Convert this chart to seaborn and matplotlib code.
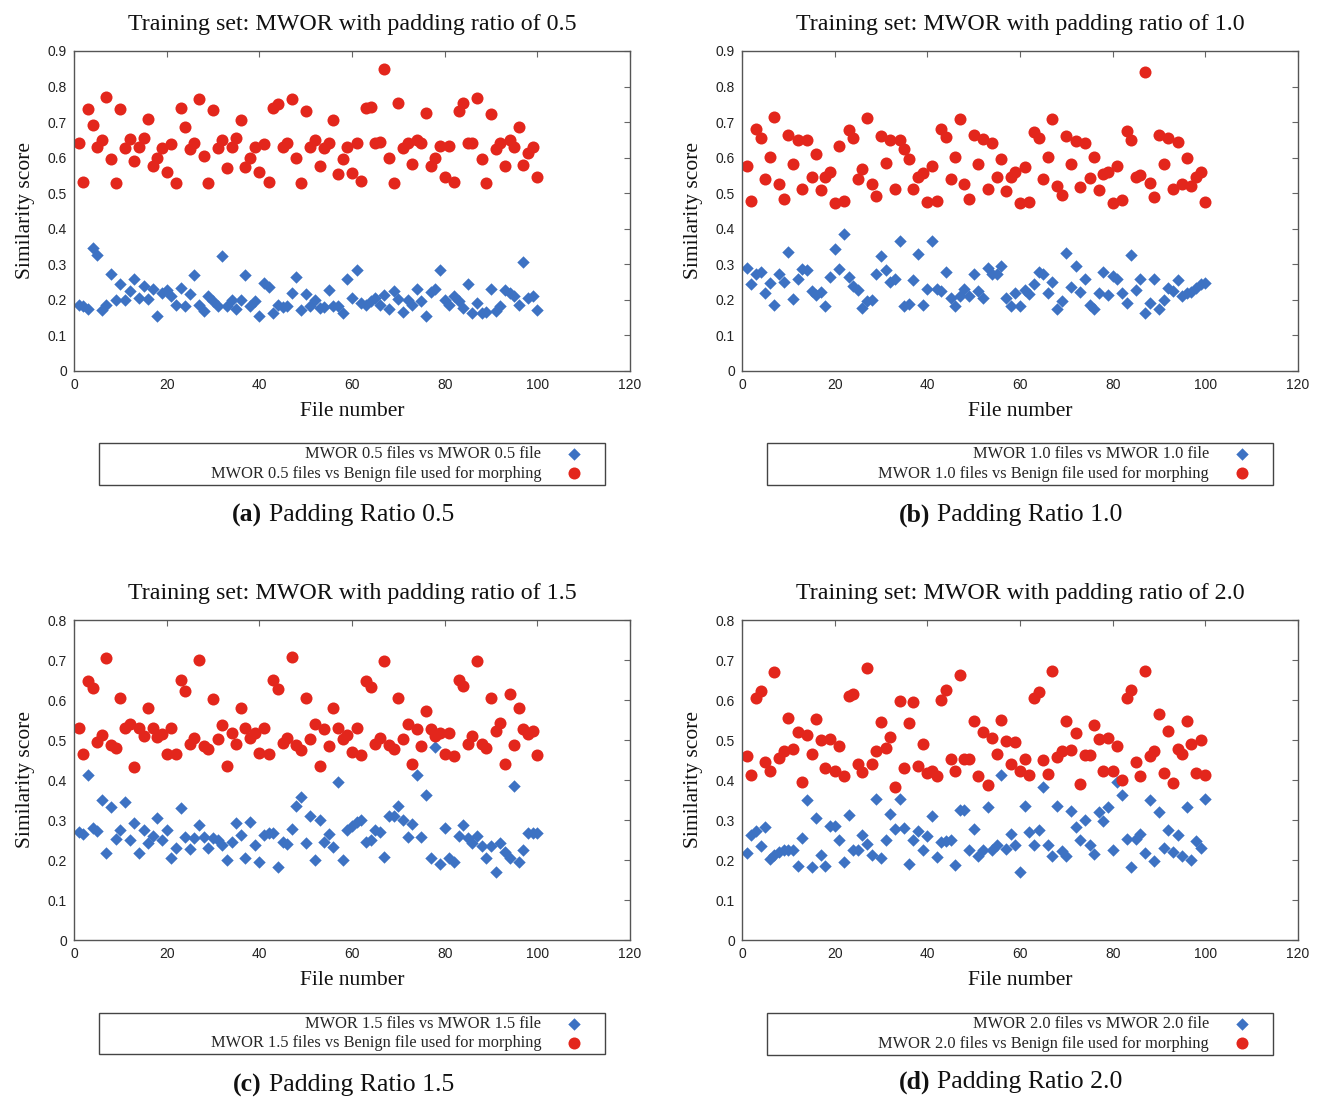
import numpy as np
import matplotlib
matplotlib.use("Agg")
import matplotlib.pyplot as plt
import seaborn as sns
from matplotlib.patches import Rectangle

# file index on the x axis
file_number = list(range(1, 101))

# (a) padding ratio 0.5
mwor05_vs_mwor = [
    0.187, 0.183, 0.175, 0.345, 0.326, 0.171, 0.187, 0.274, 0.201, 0.244,
    0.200, 0.225, 0.260, 0.206, 0.239, 0.203, 0.230, 0.155, 0.220, 0.228,
    0.211, 0.187, 0.234, 0.183, 0.216, 0.269, 0.187, 0.169, 0.211, 0.197,
    0.183, 0.323, 0.183, 0.201, 0.175, 0.199, 0.271, 0.183, 0.197, 0.156,
    0.248, 0.237, 0.164, 0.187, 0.180, 0.183, 0.220, 0.264, 0.172, 0.216,
    0.183, 0.201, 0.178, 0.180, 0.228, 0.183, 0.183, 0.164, 0.258, 0.206,
    0.283, 0.192, 0.187, 0.197, 0.206, 0.186, 0.213, 0.175, 0.225, 0.203,
    0.166, 0.200, 0.187, 0.230, 0.197, 0.156, 0.223, 0.230, 0.283, 0.200,
    0.187, 0.211, 0.197, 0.178, 0.246, 0.164, 0.192, 0.164, 0.166, 0.231,
    0.169, 0.183, 0.228, 0.220, 0.211, 0.185, 0.306, 0.206, 0.211, 0.172]
mwor05_vs_benign = [
    0.640, 0.532, 0.736, 0.692, 0.630, 0.651, 0.771, 0.595, 0.530, 0.736,
    0.628, 0.653, 0.592, 0.631, 0.655, 0.709, 0.576, 0.598, 0.626, 0.560,
    0.639, 0.530, 0.739, 0.687, 0.623, 0.642, 0.764, 0.605, 0.530, 0.733,
    0.628, 0.651, 0.572, 0.631, 0.656, 0.705, 0.574, 0.598, 0.631, 0.560,
    0.639, 0.532, 0.740, 0.752, 0.630, 0.642, 0.766, 0.600, 0.530, 0.731,
    0.631, 0.651, 0.576, 0.628, 0.640, 0.706, 0.553, 0.595, 0.630, 0.558,
    0.642, 0.534, 0.739, 0.743, 0.642, 0.644, 0.850, 0.598, 0.528, 0.754,
    0.626, 0.640, 0.581, 0.651, 0.642, 0.726, 0.576, 0.600, 0.633, 0.546,
    0.634, 0.532, 0.731, 0.754, 0.642, 0.642, 0.768, 0.595, 0.528, 0.724,
    0.623, 0.642, 0.576, 0.651, 0.631, 0.687, 0.578, 0.614, 0.631, 0.545]

# (b) padding ratio 1.0
mwor10_vs_mwor = [
    0.289, 0.246, 0.274, 0.278, 0.220, 0.248, 0.185, 0.272, 0.251, 0.335,
    0.203, 0.260, 0.286, 0.284, 0.225, 0.213, 0.223, 0.183, 0.264, 0.342,
    0.288, 0.384, 0.264, 0.239, 0.228, 0.178, 0.197, 0.201, 0.274, 0.323,
    0.284, 0.250, 0.260, 0.367, 0.183, 0.189, 0.256, 0.330, 0.187, 0.230,
    0.366, 0.231, 0.225, 0.278, 0.206, 0.183, 0.211, 0.230, 0.211, 0.274,
    0.225, 0.206, 0.291, 0.272, 0.272, 0.295, 0.206, 0.183, 0.218, 0.183,
    0.228, 0.216, 0.246, 0.278, 0.272, 0.220, 0.250, 0.175, 0.197, 0.333,
    0.236, 0.295, 0.223, 0.258, 0.187, 0.175, 0.218, 0.278, 0.213, 0.267,
    0.258, 0.218, 0.192, 0.327, 0.227, 0.258, 0.164, 0.192, 0.258, 0.173,
    0.201, 0.234, 0.225, 0.256, 0.211, 0.220, 0.222, 0.234, 0.246, 0.248]
mwor10_vs_benign = [
    0.576, 0.478, 0.681, 0.655, 0.541, 0.603, 0.715, 0.527, 0.485, 0.663,
    0.583, 0.649, 0.513, 0.649, 0.545, 0.609, 0.509, 0.545, 0.560, 0.473,
    0.633, 0.478, 0.679, 0.655, 0.541, 0.567, 0.712, 0.525, 0.492, 0.661,
    0.586, 0.651, 0.511, 0.649, 0.623, 0.597, 0.513, 0.545, 0.558, 0.476,
    0.576, 0.478, 0.681, 0.659, 0.541, 0.603, 0.709, 0.525, 0.485, 0.663,
    0.581, 0.653, 0.511, 0.640, 0.545, 0.597, 0.506, 0.546, 0.560, 0.473,
    0.575, 0.476, 0.672, 0.655, 0.539, 0.603, 0.708, 0.520, 0.495, 0.661,
    0.583, 0.647, 0.517, 0.642, 0.544, 0.602, 0.509, 0.553, 0.560, 0.473,
    0.576, 0.481, 0.675, 0.651, 0.545, 0.550, 0.842, 0.530, 0.489, 0.663,
    0.583, 0.654, 0.511, 0.645, 0.525, 0.598, 0.520, 0.545, 0.560, 0.476]

# (c) padding ratio 1.5
mwor15_vs_mwor = [
    0.270, 0.266, 0.412, 0.280, 0.272, 0.349, 0.217, 0.333, 0.253, 0.276,
    0.345, 0.249, 0.293, 0.217, 0.276, 0.242, 0.261, 0.305, 0.251, 0.274,
    0.205, 0.230, 0.330, 0.258, 0.227, 0.255, 0.288, 0.257, 0.230, 0.255,
    0.251, 0.238, 0.201, 0.244, 0.293, 0.263, 0.205, 0.295, 0.238, 0.194,
    0.263, 0.268, 0.268, 0.182, 0.245, 0.240, 0.278, 0.334, 0.358, 0.242,
    0.311, 0.201, 0.301, 0.244, 0.266, 0.232, 0.395, 0.201, 0.274, 0.285,
    0.294, 0.301, 0.244, 0.251, 0.276, 0.269, 0.207, 0.309, 0.311, 0.336,
    0.299, 0.257, 0.291, 0.412, 0.257, 0.362, 0.205, 0.483, 0.191, 0.280,
    0.205, 0.196, 0.259, 0.288, 0.255, 0.242, 0.261, 0.234, 0.205, 0.236,
    0.169, 0.242, 0.219, 0.205, 0.386, 0.196, 0.226, 0.268, 0.268, 0.268]
mwor15_vs_benign = [
    0.531, 0.464, 0.648, 0.629, 0.495, 0.512, 0.704, 0.487, 0.479, 0.604,
    0.531, 0.541, 0.433, 0.529, 0.510, 0.579, 0.531, 0.508, 0.514, 0.464,
    0.531, 0.464, 0.650, 0.623, 0.489, 0.506, 0.701, 0.485, 0.477, 0.602,
    0.502, 0.538, 0.436, 0.517, 0.489, 0.579, 0.531, 0.506, 0.518, 0.467,
    0.531, 0.464, 0.650, 0.627, 0.493, 0.506, 0.707, 0.487, 0.475, 0.604,
    0.502, 0.539, 0.435, 0.527, 0.485, 0.579, 0.531, 0.503, 0.512, 0.470,
    0.531, 0.462, 0.648, 0.633, 0.491, 0.506, 0.698, 0.487, 0.478, 0.604,
    0.502, 0.541, 0.441, 0.528, 0.485, 0.573, 0.528, 0.510, 0.518, 0.464,
    0.517, 0.460, 0.650, 0.634, 0.489, 0.510, 0.698, 0.489, 0.481, 0.606,
    0.523, 0.543, 0.439, 0.616, 0.487, 0.581, 0.527, 0.515, 0.523, 0.462]

# (d) padding ratio 2.0
mwor20_vs_mwor = [
    0.217, 0.263, 0.273, 0.236, 0.283, 0.202, 0.213, 0.219, 0.226, 0.224,
    0.226, 0.186, 0.255, 0.351, 0.182, 0.305, 0.213, 0.186, 0.286, 0.284,
    0.251, 0.196, 0.312, 0.224, 0.226, 0.263, 0.240, 0.213, 0.353, 0.205,
    0.251, 0.315, 0.278, 0.353, 0.280, 0.191, 0.251, 0.272, 0.226, 0.261,
    0.309, 0.207, 0.244, 0.247, 0.251, 0.188, 0.326, 0.326, 0.226, 0.278,
    0.209, 0.226, 0.333, 0.224, 0.238, 0.412, 0.228, 0.265, 0.237, 0.171,
    0.334, 0.269, 0.238, 0.276, 0.383, 0.238, 0.209, 0.334, 0.222, 0.211,
    0.322, 0.283, 0.251, 0.299, 0.238, 0.215, 0.319, 0.297, 0.333, 0.224,
    0.395, 0.362, 0.252, 0.182, 0.252, 0.266, 0.217, 0.351, 0.197, 0.320,
    0.230, 0.274, 0.219, 0.263, 0.209, 0.333, 0.200, 0.247, 0.230, 0.353]
mwor20_vs_benign = [
    0.460, 0.412, 0.604, 0.623, 0.446, 0.422, 0.671, 0.456, 0.472, 0.554,
    0.478, 0.520, 0.395, 0.512, 0.464, 0.552, 0.500, 0.431, 0.502, 0.422,
    0.485, 0.411, 0.610, 0.616, 0.439, 0.420, 0.679, 0.441, 0.472, 0.545,
    0.481, 0.508, 0.383, 0.598, 0.431, 0.543, 0.594, 0.436, 0.491, 0.418,
    0.422, 0.411, 0.600, 0.625, 0.452, 0.422, 0.662, 0.453, 0.453, 0.548,
    0.410, 0.520, 0.387, 0.506, 0.464, 0.549, 0.497, 0.441, 0.495, 0.422,
    0.453, 0.412, 0.604, 0.621, 0.449, 0.416, 0.672, 0.457, 0.472, 0.548,
    0.475, 0.517, 0.391, 0.462, 0.462, 0.538, 0.502, 0.422, 0.506, 0.422,
    0.485, 0.401, 0.604, 0.625, 0.446, 0.410, 0.672, 0.460, 0.472, 0.564,
    0.418, 0.522, 0.393, 0.478, 0.464, 0.548, 0.489, 0.418, 0.500, 0.412]

ratios = ["0.5", "1.0", "1.5", "2.0"]
letters = ["a", "b", "c", "d"]
same_series = [mwor05_vs_mwor, mwor10_vs_mwor, mwor15_vs_mwor, mwor20_vs_mwor]
benign_series = [mwor05_vs_benign, mwor10_vs_benign, mwor15_vs_benign, mwor20_vs_benign]
y_max = [0.9, 0.9, 0.8, 0.8]

BLUE = "#3D72C3"
RED = "#E3261C"
SERIF = ["Liberation Serif", "DejaVu Serif"]
SANS = ["Liberation Sans", "DejaVu Sans"]

W, H = 1322, 1099

def fx(x):
    return x / W

def fy(y):
    return 1 - y / H

sns.set_theme(style="white")
plt.rcParams["font.family"] = SERIF

fig = plt.figure(figsize=(W / 100, H / 100), dpi=100)

# pixel layout of each panel: axes box, legend box, caption row
col_left = [74, 742, 74, 742]
row_top = [51, 51, 620, 620]
axes_w, axes_h = 556, 320
legend_y = [(443, 485), (443, 485), (1013, 1054), (1013, 1055)]
caption_y = [515, 515, 1085, 1082]

for i in range(4):
    l, t = col_left[i], row_top[i]
    ax = fig.add_axes([fx(l), fy(t + axes_h), axes_w / W, axes_h / H])

    sns.scatterplot(x=file_number, y=same_series[i], marker="D", color=BLUE,
                    s=40, linewidth=0, ax=ax,
                    label=f"MWOR {ratios[i]} files vs MWOR {ratios[i]} file")
    sns.scatterplot(x=file_number, y=benign_series[i], marker="o", color=RED,
                    s=75, linewidth=0, ax=ax,
                    label=f"MWOR {ratios[i]} files vs Benign file used for morphing")

    ax.set_xlim(0, 120)
    ax.set_ylim(0, y_max[i])
    xt = list(range(0, 121, 20))
    yt = np.round(np.arange(0, y_max[i] + 0.001, 0.1), 1)
    ax.set_xticks(xt, labels=[str(v) for v in xt], family=SANS)
    ax.set_yticks(yt, labels=["0" if v == 0 else f"{v:.1f}" for v in yt], family=SANS)
    ax.tick_params(direction="in", length=4, width=0.8, top=True, right=True,
                   labelsize=10, color="#666666", labelcolor="#222222", pad=5)
    for sp in ax.spines.values():
        sp.set_color("#555555")
        sp.set_linewidth(1.0)

    ax.set_title(f"Training set: MWOR with padding ratio of {ratios[i]}",
                 fontsize=17.3, pad=15, color="#111111")
    ax.set_xlabel("File number", fontsize=15.5, labelpad=7, color="#111111")
    ax.set_ylabel("Similarity score", fontsize=15.5, labelpad=9, color="#111111")

    # legend with text first, marker last, framed by a wide box
    lx0, lx1 = l + 25, l + 531
    ly0, ly1 = legend_y[i]
    handles, labels = ax.get_legend_handles_labels()
    ax.legend(handles, labels, loc="center right",
              bbox_to_anchor=(fx(lx1 - 19.5), fy((ly0 + ly1) / 2)),
              bbox_transform=fig.transFigure, frameon=False, markerfirst=False,
              fontsize=11.8, handlelength=1.4, handletextpad=1.3,
              labelspacing=0.2, borderpad=0, borderaxespad=0)
    fig.add_artist(Rectangle((fx(lx0), fy(ly1)), (lx1 - lx0) / W, (ly1 - ly0) / H,
                             transform=fig.transFigure, fill=False,
                             edgecolor="#444444", linewidth=1.0))

    # caption under the legend
    cx = l + 188
    fig.text(fx(cx), fy(caption_y[i]), f"({letters[i]})", ha="right", va="center",
             fontsize=18.5, fontweight="bold", color="#111111")
    fig.text(fx(cx + 7), fy(caption_y[i]), f"Padding Ratio {ratios[i]}", ha="left",
             va="center", fontsize=18.5, color="#111111")

fig.savefig("out.png", dpi=100, facecolor="white")
